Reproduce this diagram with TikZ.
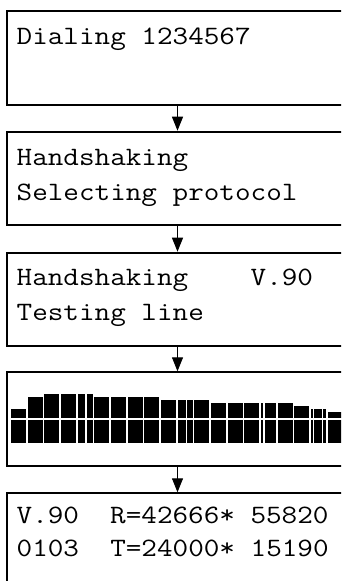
\documentclass[tikz,border=0pt]{standalone}
\usepackage{fontspec}
\newfontfamily\lcdfont{Latin Modern Mono}[FakeStretch=1.143]
\usetikzlibrary{arrows.meta}

\begin{document}
\begin{tikzpicture}[x=1pt, y=-1pt,
	screen/.style={draw, line width=2pt, minimum width=341pt, minimum height=93.5pt, inner sep=0pt},
	lcd/.style={anchor=base west, inner sep=0pt, font=\lcdfont\fontsize{26.5}{30}\selectfont},
	flow/.style={-{Triangle[width=11pt, length=14pt]}, line width=1pt}]
	\clip (0,0) rectangle (341,581);

	\node[screen] (s1) at (177.5,57.75) {};
	\node[screen] (s2) at (177.5,178.45) {};
	\node[screen] (s3) at (177.5,299.45) {};
	\node[screen] (s4) at (177.5,419.05) {};
	\node[screen] (s5) at (177.5,540.05) {};

	\draw[flow] (s1) -- (s2);
	\draw[flow] (s2) -- (s3);
	\draw[flow] (s3) -- (s4);
	\draw[flow] (s4) -- (s5);

	\node[lcd] (dial) at (16.5,44.3) {Dialing 1234567};
	\node[lcd] (hand2) at (16.5,165) {Handshaking};
	\node[lcd] (select) at (16.5,200.7) {Selecting protocol};
	\node[lcd] (hand3) at (16.5,285) {Handshaking~~~~V.90};
	\node[lcd] (test) at (16.5,320.7) {Testing line};
	\node[lcd] (rx) at (16.5,523) {V.90~~R=42666*~55820};
	\node[lcd] (tx) at (16.5,556.7) {0103~~T=24000*~15190};

	% level bars
	\foreach \i/\t in {0/409, 1/397, 2/394, 3/394, 4/394, 5/397, 6/397, 7/397, 8/397, 9/400,
		10/400, 11/400, 12/403, 13/403, 14/403, 15/403, 16/403, 17/406, 18/409, 19/412}
	{
		\fill ({11+16.67*\i},\t) rectangle +(15,{417.7-\t});
		\fill ({11+16.67*\i},420) rectangle +(15,23.3);
	}
	\foreach \g/\w in {85.3/1.4, 185.7/1.3, 263.3/1.4, 313.3/1.0, 321.7/1.0}
		\fill[white] (\g,390) rectangle +(\w,55);
\end{tikzpicture}
\end{document}
